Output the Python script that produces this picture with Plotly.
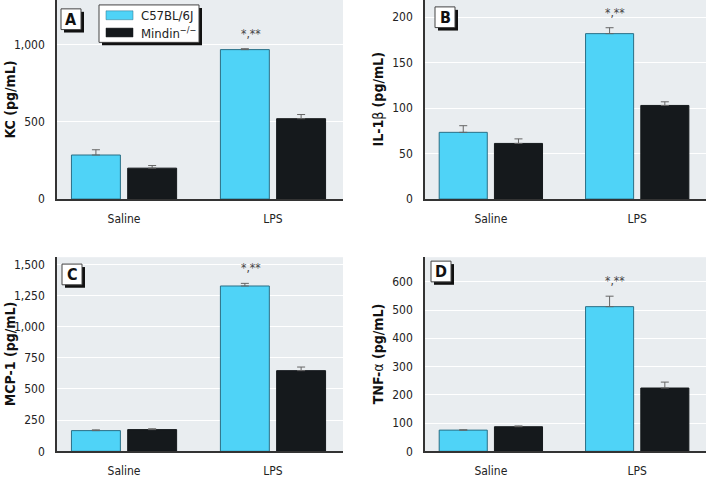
import plotly.graph_objects as go

W, H = 712, 480
FONT = "Liberation Sans Narrow, DejaVu Sans Condensed, Arial Narrow, sans-serif"

categories = ["Saline", "LPS"]
series_names = ["C57BL/6J", "Mindin<sup>−/−</sup>"]
colors = ["#4fd3f7", "#15191c"]

# panel data: values [C57BL/6J, Mindin-/-] per category, with SEM
kc_wt = [285, 967]
kc_wt_err = [34, 6]
kc_ko = [200, 520]
kc_ko_err = [17, 27]

il1b_wt = [73.4, 182]
il1b_wt_err = [7.3, 6.5]
il1b_ko = [61.2, 103]
il1b_ko_err = [5, 4]

mcp1_wt = [166, 1326]
mcp1_wt_err = [6, 21]
mcp1_ko = [174, 647]
mcp1_ko_err = [7, 29]

tnfa_wt = [75, 512]
tnfa_wt_err = [1, 37]
tnfa_ko = [87, 224]
tnfa_ko_err = [3, 21]

panels = [
    dict(letter="A", title="<b>KC (pg/mL)</b>", wt=kc_wt, wte=kc_wt_err, ko=kc_ko, koe=kc_ko_err,
         yr=[0, 1288], tickvals=[0, 500, 1000], ticktext=["0", "500", "1,000"]),
    dict(letter="B", title="<b>IL-1</b>β<b> (pg/mL)</b>", wt=il1b_wt, wte=il1b_wt_err, ko=il1b_ko, koe=il1b_ko_err,
         yr=[0, 219], tickvals=[0, 50, 100, 150, 200], ticktext=["0", "50", "100", "150", "200"]),
    dict(letter="C", title="<b>MCP-1 (pg/mL)</b>", wt=mcp1_wt, wte=mcp1_wt_err, ko=mcp1_ko, koe=mcp1_ko_err,
         yr=[0, 1557], tickvals=[0, 250, 500, 750, 1000, 1250, 1500],
         ticktext=["0", "250", "500", "750", "1,000", "1,250", "1,500"]),
    dict(letter="D", title="<b>TNF-</b>α<b> (pg/mL)</b>", wt=tnfa_wt, wte=tnfa_wt_err, ko=tnfa_ko, koe=tnfa_ko_err,
         yr=[0, 687], tickvals=[0, 100, 200, 300, 400, 500, 600],
         ticktext=["0", "100", "200", "300", "400", "500", "600"]),
]
sig_text = "*,**"

# layout geometry in pixels: (left, right, top, bottom)
boxes_px = [(57, 343, 0, 202), (425, 706, 0, 202), (57, 343, 261, 458), (425, 706, 261, 458)]
label_px = [(61, 9), (435, 7), (62, 268), (431, 265)]

def px_x(x):
    return x / W

def px_y(y):
    return 1 - y / H

fig = go.Figure()
layout = dict(
    width=W, height=H, margin=dict(l=0, r=0, t=0, b=0),
    paper_bgcolor="white", plot_bgcolor="#e9edf0",
    showlegend=False, barmode="group", bargap=0.245, bargroupgap=0.13,
    font=dict(family=FONT, size=12, color="#222"),
)
shapes = []
annotations = []

for i, p in enumerate(panels):
    n = "" if i == 0 else str(i + 1)
    xa, ya = "x" + n, "y" + n
    for vals, errs, name, col in [(p["wt"], p["wte"], series_names[0], colors[0]),
                                  (p["ko"], p["koe"], series_names[1], colors[1])]:
        fig.add_trace(go.Bar(
            x=categories, y=vals, name=name, xaxis=xa, yaxis=ya,
            marker=dict(color=col, line=dict(color="#2a6f86" if col == colors[0] else "#15191c", width=1)),
            error_y=dict(type="data", array=errs, symmetric=False, arrayminus=[0, 0],
                         color="#666", thickness=1, width=4),
        ))
    l, r, t, b = boxes_px[i]
    layout["xaxis" + n] = dict(
        domain=[px_x(l), px_x(r)], anchor=ya, type="category", range=[-0.45, 1.47],
        showline=True, linecolor="#333", linewidth=1.5, ticks="", showgrid=False,
        tickfont=dict(size=12, color="#222"), ticklabelstandoff=8, zeroline=False,
    )
    layout["yaxis" + n] = dict(
        domain=[px_y(b), px_y(t)], anchor=xa, range=p["yr"],
        tickvals=p["tickvals"], ticktext=p["ticktext"],
        showline=True, linecolor="#333", linewidth=1.5, ticks="",
        showgrid=True, gridcolor="white", gridwidth=1, zeroline=False,
        tickfont=dict(size=12, color="#222"), ticklabelstandoff=8,
    )
    # y title
    annotations.append(dict(
        text=p["title"], xref="paper", yref="paper", x=px_x(l - 47), y=px_y((t + b) / 2),
        textangle=-90, showarrow=False, font=dict(size=14, color="#111"),
        xanchor="center", yanchor="middle",
    ))
    # significance
    annotations.append(dict(
        text=sig_text, xref=xa, yref=ya, x=1, xshift=-22,
        y=p["wt"][1] + p["wte"][1], yanchor="bottom", yshift=6, showarrow=False,
        font=dict(size=12, color="#444"),
    ))
    # letter box with shadow
    lx, ly = label_px[i]
    shapes.append(dict(type="rect", xref="paper", yref="paper",
                       x0=px_x(lx + 3), x1=px_x(lx + 23), y0=px_y(ly + 24), y1=px_y(ly + 3),
                       fillcolor="#111", line=dict(width=0)))
    shapes.append(dict(type="rect", xref="paper", yref="paper",
                       x0=px_x(lx), x1=px_x(lx + 20), y0=px_y(ly + 21), y1=px_y(ly),
                       fillcolor="white", line=dict(color="#444", width=1)))
    annotations.append(dict(
        text="<b>" + p["letter"] + "</b>", xref="paper", yref="paper",
        x=px_x(lx + 10), y=px_y(ly + 10.5), xanchor="center", yanchor="middle",
        showarrow=False, font=dict(size=16, color="#111"),
    ))

# legend box in panel A
shapes.append(dict(type="rect", xref="paper", yref="paper",
                   x0=px_x(102), x1=px_x(202), y0=px_y(46), y1=px_y(8),
                   fillcolor="#111", line=dict(width=0)))
shapes.append(dict(type="rect", xref="paper", yref="paper",
                   x0=px_x(99), x1=px_x(199), y0=px_y(43), y1=px_y(5),
                   fillcolor="white", line=dict(color="#444", width=1)))
for k, (name, col) in enumerate(zip(series_names, colors)):
    yc = 15.5 + k * 17.5
    shapes.append(dict(type="rect", xref="paper", yref="paper",
                       x0=px_x(106), x1=px_x(133), y0=px_y(yc + 4.5), y1=px_y(yc - 4.5),
                       fillcolor=col, line=dict(color="#2a6f86" if k == 0 else col, width=0.5)))
    annotations.append(dict(text=name, xref="paper", yref="paper", x=px_x(139), y=px_y(yc),
                            xanchor="left", yanchor="middle", showarrow=False,
                            font=dict(size=13, color="#222")))

layout["shapes"] = shapes
layout["annotations"] = annotations
fig.update_layout(**layout)
fig.write_html("out.html", config={"displayModeBar": False},
               post_script="document.body.style.margin='0px';document.body.style.overflow='hidden';")
